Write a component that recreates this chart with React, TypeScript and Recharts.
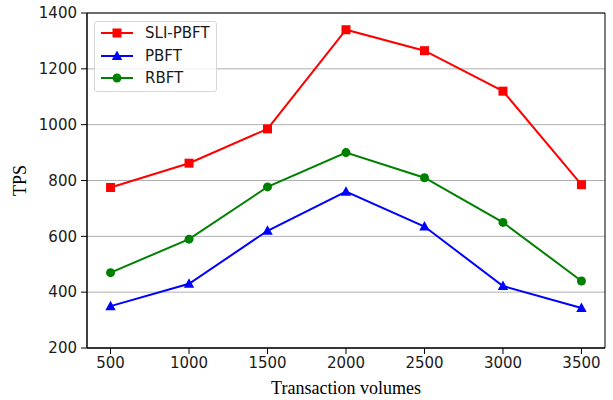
import { LineChart, Line, XAxis, YAxis, CartesianGrid, Legend, ReferenceArea, Label } from 'recharts'

const volumes = [500, 1000, 1500, 2000, 2500, 3000, 3500]
const sliPbft = [775, 862, 985, 1340, 1265, 1120, 785]
const pbft = [350, 430, 620, 760, 635, 422, 343]
const rbft = [470, 590, 777, 900, 810, 650, 440]
const yTicks = [200, 400, 600, 800, 1000, 1200, 1400]

const series = [
  { key: 'sli', name: 'SLI-PBFT', color: '#ff0000', shape: 'square' },
  { key: 'pbft', name: 'PBFT', color: '#0000ff', shape: 'triangle' },
  { key: 'rbft', name: 'RBFT', color: '#008000', shape: 'circle' },
]

const data = volumes.map((v, i) => ({
  x: v,
  sli: sliPbft[i],
  pbft: pbft[i],
  rbft: rbft[i],
}))

const tickFont = { fontFamily: 'DejaVu Sans', fontSize: 15, fill: '#1a1a1a' }

function Marker({ cx, cy, shape, color }: { cx: number; cy: number; shape: string; color: string }) {
  if (shape === 'square') {
    return <rect x={cx - 4.5} y={cy - 4.5} width={9} height={9} fill={color} />
  }
  if (shape === 'triangle') {
    return <polygon points={`${cx},${cy - 5.5} ${cx - 5.2},${cy + 4} ${cx + 5.2},${cy + 4}`} fill={color} />
  }
  return <circle cx={cx} cy={cy} r={4.5} fill={color} />
}

function makeDot(shape: string, color: string) {
  return (props: any) => {
    const { cx, cy, index } = props
    if (cx == null || cy == null) return <g key={index} />
    return <Marker key={`${shape}-${index}`} cx={cx} cy={cy} shape={shape} color={color} />
  }
}

function LegendBox() {
  return (
    <div
      style={{
        width: 123,
        height: 71,
        border: '1px solid #d6d6d6',
        borderRadius: 3,
        background: 'rgba(255,255,255,0.8)',
        boxSizing: 'border-box',
        paddingTop: 0,
      }}
    >
      {series.map((s) => (
        <div key={s.key} style={{ display: 'flex', alignItems: 'center', height: 22.5 }}>
          <svg width={44} height={20} style={{ marginLeft: 4 }}>
            <line x1={2} y1={10} x2={34} y2={10} stroke={s.color} strokeWidth={2} />
            <Marker cx={18} cy={10} shape={s.shape} color={s.color} />
          </svg>
          <span style={{ fontFamily: 'DejaVu Sans', fontSize: 15, color: '#1a1a1a', marginLeft: 2 }}>{s.name}</span>
        </div>
      ))}
    </div>
  )
}

export default function App() {
  return (
    <div style={{ position: 'absolute', left: 0, top: 0, background: '#fff' }}>
      <LineChart width={613} height={400} data={data} margin={{ top: 13, right: 8, left: 0, bottom: 0 }}>
        <CartesianGrid horizontal vertical={false} stroke="#b0b0b0" strokeWidth={1} />
        <XAxis
          dataKey="x"
          type="number"
          domain={[350, 3650]}
          ticks={volumes}
          height={52}
          tick={tickFont}
          tickSize={6}
          tickMargin={3}
          stroke="#000"
          allowDataOverflow
        >
          <Label
            value="Transaction volumes"
            position="insideBottom"
            offset={6}
            style={{ fontFamily: 'Liberation Serif', fontSize: 18, fill: '#000' }}
          />
        </XAxis>
        <YAxis
          type="number"
          domain={[200, 1400]}
          ticks={yTicks}
          width={87}
          tick={tickFont}
          tickSize={6}
          tickMargin={4}
          stroke="#000"
          allowDataOverflow
        >
          <Label
            value="TPS"
            angle={-90}
            position="insideLeft"
            offset={20}
            style={{ fontFamily: 'Liberation Serif', fontSize: 18, fill: '#000', textAnchor: 'middle' }}
          />
        </YAxis>
        <ReferenceArea x1={350} x2={3650} y1={200} y2={1400} fill="none" stroke="#000" strokeWidth={1} ifOverflow="visible" />
        <Legend
          layout="horizontal"
          verticalAlign="middle"
          align="center"
          content={() => <LegendBox />}
          wrapperStyle={{ left: 94, top: 21, width: 123, transform: 'none' }}
        />
        {series.map((s) => (
          <Line
            key={s.key}
            dataKey={s.key}
            name={s.name}
            stroke={s.color}
            strokeWidth={2}
            dot={makeDot(s.shape, s.color)}
            activeDot={false}
            isAnimationActive={false}
          />
        ))}
      </LineChart>
    </div>
  )
}
